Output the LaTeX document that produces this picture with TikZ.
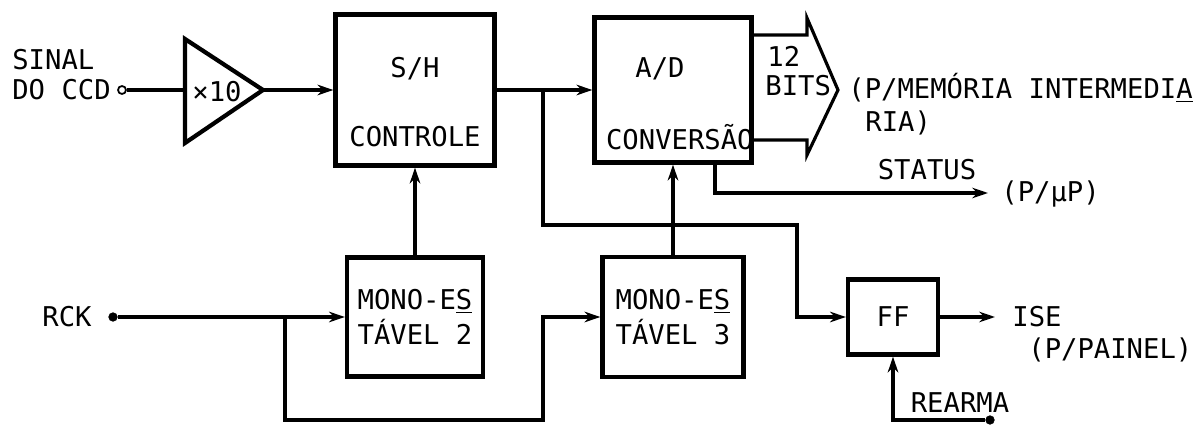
\documentclass[tikz,border=0pt]{standalone}
\usepackage{fontspec}
\setmonofont{DejaVu Sans Mono}
\usetikzlibrary{arrows.meta}
\newcommand\tw{\ttfamily\fontsize{15.5}{20}\selectfont}
\tikzset{
  % block
  blk/.style={rectangle,draw,line width=2.4pt,inner sep=0mm,font=\tw,align=left},
  % plain wire and wire with arrow
  wire/.style={line width=1.8pt},
  sig/.style={wire,-{Stealth[length=9pt,width=6pt]}},
  % terminals
  opin/.style={circle,draw,fill=white,line width=1pt,inner sep=0mm,minimum size=1.6mm}, % open terminal
  fpin/.style={circle,draw,fill,inner sep=0mm,minimum size=1.7mm}, % filled terminal
  % text
  txt/.style={inner sep=0mm,font=\tw},
}
\begin{document}
\begin{tikzpicture}
  \useasboundingbox (0,0) rectangle (23.9,-8.52);
  %%%%%%%%%%%%%%%%%%%%%%%%%%%%%%%%%%%%%%%
  \node[txt,anchor=west] (sinal) at (0.24,-1.2) {SINAL};
  \node[txt,anchor=west] (doccd) at (0.24,-1.8) {DO CCD};
  \node[opin] (ccd) at (2.44,-1.8) {};
  % amplifier
  \coordinate (ampin) at (3.7,-1.8);
  \coordinate (ampout) at (5.26,-1.8);
  \draw[line width=2.4pt,line join=miter] (3.7,-0.78) -- (ampout) -- (3.7,-2.86) -- cycle;
  \node[txt] (gain) at (4.34,-1.84) {×10};
  %%%%%%%%%%%%%%%%%%%%%%%%%%%%%%%%%%%%%%%
  \node[blk,minimum width=3.18cm,minimum height=3.02cm] (sh) at (8.3,-1.8) {};
  \node[txt] (shtop) at (8.3,-1.38) {S/H};
  \node[txt] (shbot) at (8.3,-2.74) {CONTROLE};
  \node[blk,minimum width=3.14cm,minimum height=2.9cm] (ad) at (13.46,-1.8) {};
  \node[txt] (adtop) at (13.2,-1.38) {A/D};
  \node[txt,anchor=east] (adbot) at (15.08,-2.74) {CONVERSÃO};
  %%%%%%%%%%%%%%%%%%%%%%%%%%%%%%%%%%%%%%%
  \node[blk,minimum width=2.72cm,minimum height=2.38cm] (mono2) at (8.3,-6.34) {MONO-E\underline{S}\\TÁVEL 2};
  \node[blk,minimum width=2.82cm,minimum height=2.4cm] (mono3) at (13.46,-6.34) {MONO-E\underline{S}\\TÁVEL 3};
  \node[blk,minimum width=1.8cm,minimum height=1.5cm] (ff) at (17.86,-6.34) {FF};
  %%%%%%%%%%%%%%%%%%%%%%%%%%%%%%%%%%%%%%%
  \draw[wire] (ccd) -- (ampin);
  \draw[sig] (ampout) -- (sh.west);
  \coordinate (j1) at (10.86,-1.8);
  \draw[sig] (sh.east) -- (ad.west);
  \coordinate (bend) at (15.94,-4.5);
  \draw[sig] (j1) |- (bend) |- (ff.west);
  \draw[sig] (mono2.north) -- (sh.south);
  \draw[sig] (mono3.north) -- (ad.south);
  %%%%%%%%%%%%%%%%%%%%%%%%%%%%%%%%%%%%%%%
  % 12 bits bus
  \coordinate (bus1) at ([yshift=1.1cm]ad.east);
  \coordinate (bus2) at ([yshift=-1cm]ad.east);
  \draw[wire,line join=miter] (bus1) -- (16.14,-0.7) -- (16.14,-0.36) -- (16.76,-1.8)
     -- (16.14,-3.1) -- (16.14,-2.8) -- (bus2);
  \node[txt,anchor=west] (n12) at (15.34,-1.12) {12};
  \node[txt,anchor=west] (bits) at (15.3,-1.72) {BITS};
  \node[txt,anchor=west] (mem) at (16.96,-1.76) {(P/MEMÓRIA INTERMEDI\underline{A}};
  \node[txt,anchor=west] (ria) at (17.3,-2.46) {RIA)};
  %%%%%%%%%%%%%%%%%%%%%%%%%%%%%%%%%%%%%%%
  % status
  \coordinate (statend) at (19.76,-3.86);
  \draw[sig] ([xshift=0.84cm]ad.south) |- (statend);
  \node[txt] (status) at (18.54,-3.4) {STATUS};
  \node[txt,anchor=west] (up) at (20.02,-3.88) {(P/µP)};
  %%%%%%%%%%%%%%%%%%%%%%%%%%%%%%%%%%%%%%%
  % clock
  \node[txt] (rcklab) at (1.34,-6.34) {RCK};
  \node[fpin] (rck) at (2.26,-6.34) {};
  \coordinate (j2) at (5.7,-6.34);
  \coordinate (low) at (10.86,-8.4);
  \draw[sig] (rck) -- (mono2.west);
  \draw[sig] (j2) |- (low) |- (mono3.west);
  %%%%%%%%%%%%%%%%%%%%%%%%%%%%%%%%%%%%%%%
  % flip-flop output and reset
  \coordinate (iseend) at (19.9,-6.34);
  \draw[sig] (ff.east) -- (iseend);
  \node[txt,anchor=west] (ise) at (20.24,-6.34) {ISE};
  \node[txt,anchor=west] (painel) at (20.56,-7.0) {(P/PAINEL)};
  \node[fpin] (rearma) at (19.8,-8.4) {};
  \draw[sig] (rearma) -| (ff.south);
  \node[txt] (rearmalab) at (19.2,-8.06) {REARMA};
\end{tikzpicture}
\end{document}
